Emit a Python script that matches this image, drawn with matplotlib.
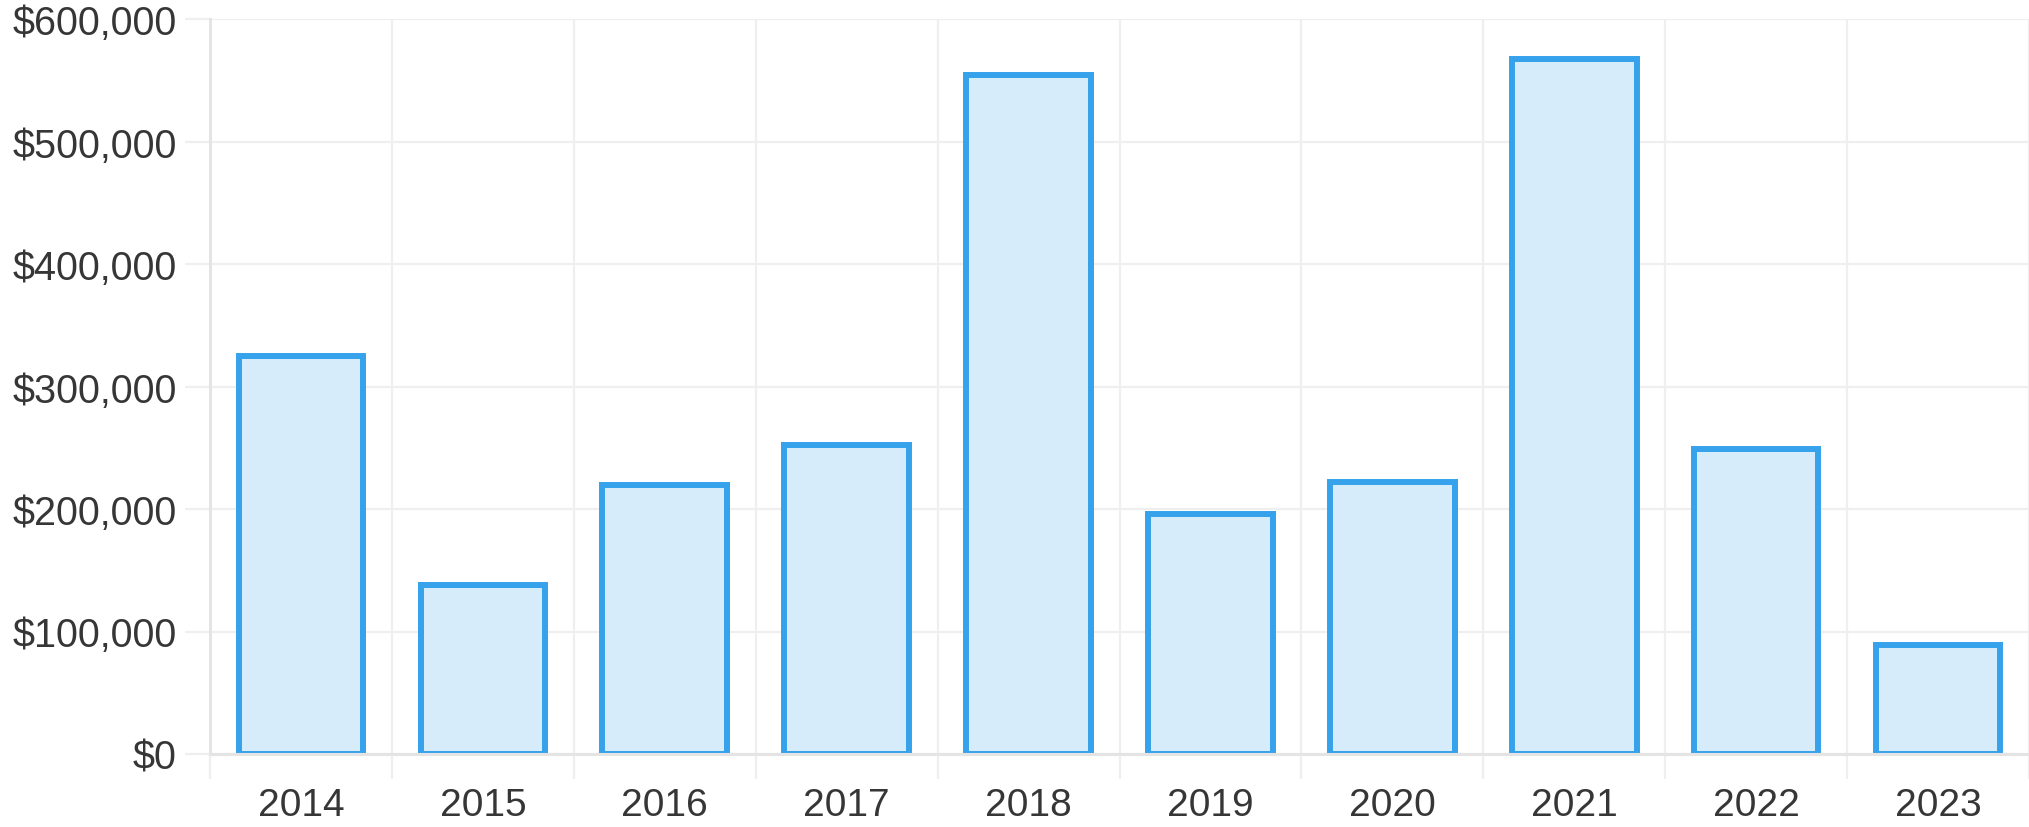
import numpy as np
import matplotlib.pyplot as plt
from matplotlib.ticker import FuncFormatter, MultipleLocator

# values
years = ["2014", "2015", "2016", "2017", "2018", "2019", "2020", "2021", "2022", "2023"]
amounts = [325000, 138000, 220000, 252000, 554000, 196000, 222000, 567000, 249000, 89000]

EDGE = "#36a2eb"
FILL = "#d7ecfb"
GRID = "#efefef"
AXIS = "#e4e4e4"
TEXT = "#363636"

plt.rcParams["font.family"] = ["Liberation Sans", "DejaVu Sans"]

fig = plt.figure(figsize=(20.29, 8.28), dpi=100)
ax = fig.add_axes([210 / 2029, 73 / 828, 1819 / 2029, 735 / 828])

x = np.arange(len(years))
ax.bar(x, amounts, width=0.685, color=FILL, edgecolor=EDGE, linewidth=4.3, zorder=3)

ax.set_xlim(-0.5, len(years) - 0.5)
ax.set_ylim(0, 600000)

ax.yaxis.set_major_locator(MultipleLocator(100000))
ax.yaxis.set_major_formatter(FuncFormatter(lambda v, p: f"${v:,.0f}"))
ax.set_xticks(x)
ax.set_xticklabels(years)
ax.set_xticks(np.arange(-0.5, len(years)), minor=True)

ax.grid(axis="y", which="major", color=GRID, linewidth=1.6, zorder=0)
ax.grid(axis="x", which="minor", color=GRID, linewidth=1.6, zorder=0)
ax.grid(axis="x", which="major", visible=False)

ax.tick_params(axis="y", which="major", length=18, width=1.6, color=GRID,
               labelsize=28.5, labelcolor=TEXT, pad=6)
ax.tick_params(axis="x", which="major", length=0, labelsize=28,
               labelcolor=TEXT, pad=24)
ax.tick_params(axis="x", which="minor", length=18, width=1.6, color=GRID)

for side in ["top", "right"]:
    ax.spines[side].set_visible(False)
for side in ["left", "bottom"]:
    ax.spines[side].set_color(AXIS)
    ax.spines[side].set_linewidth(2.2)
    ax.spines[side].set_zorder(5)

fig.savefig("out.png", dpi=100)
